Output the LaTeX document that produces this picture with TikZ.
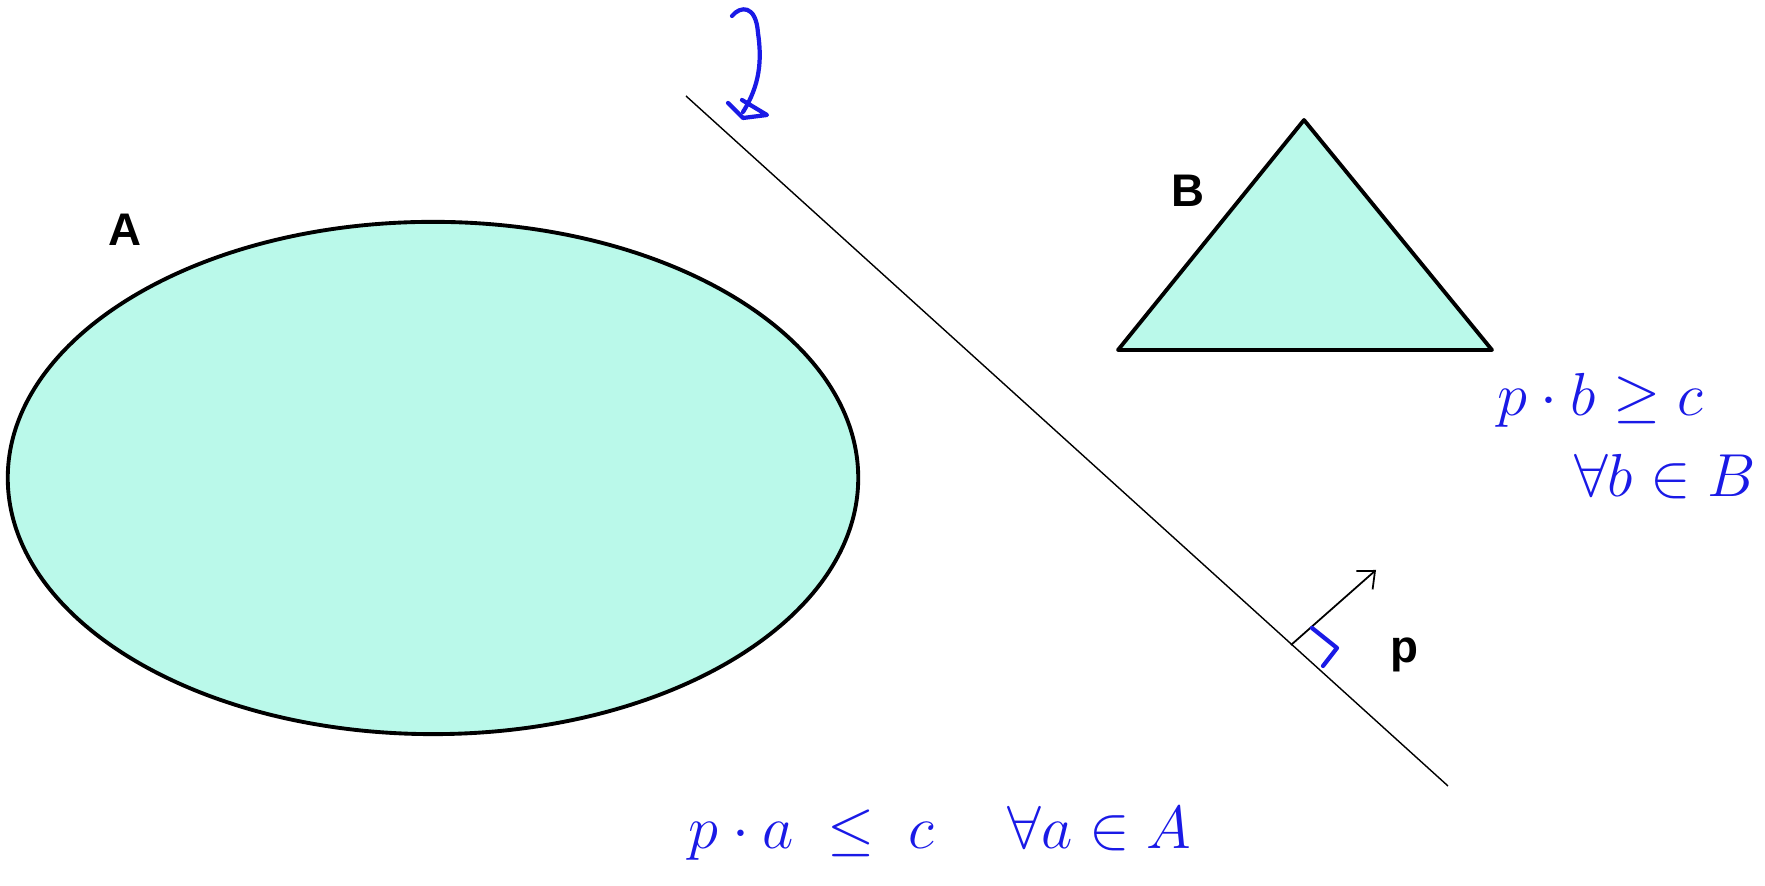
\documentclass[tikz,border=0pt]{standalone}
\usepackage{amsmath,amssymb}
\usepackage{fontspec}
\setsansfont{Liberation Sans}
\usetikzlibrary{arrows.meta}
\definecolor{setfill}{HTML}{BAF9EA}
\definecolor{ink}{HTML}{1A1AE6}

\begin{document}
\begin{tikzpicture}[x=0.01cm,y=-0.01cm,
  lbl/.style={font=\sffamily\bfseries\fontsize{13}{15}\selectfont},
  hand/.style={text=ink,font=\fontsize{16}{19}\selectfont},
  pen/.style={draw=ink,line width=1.2pt,line cap=round,line join=round}]
\useasboundingbox (0,0) rectangle (1765,886);
\draw[line width=1.1pt,fill=setfill](433,478) ellipse[x radius=4.25cm,y radius=2.56cm];
\draw[line width=1.1pt,fill=setfill,line join=round](1304,120)--(1118,350)--(1492,350)--cycle;
\node[lbl] (A) at (125,230) {A};
\node[lbl] (B) at (1188,191) {B};
\coordinate (l1) at (686,96);
\coordinate (l2) at (1448,786);
\draw[line width=0.4pt] (l1) -- (l2);
\coordinate (foot) at (1291,645);
\coordinate (tip) at (1376,570);
\draw[line width=0.5pt,-{Straight Barb[length=4pt,width=7pt]}] (foot) -- (tip);
\node[lbl] (p) at (1404,655) {p};
\draw[pen] (1312,628) -- (1337,648) -- (1323,666);
\draw[pen] (732,16) .. controls (740,6) and (756,4) .. (758,33)
  .. controls (762,60) and (760,85) .. (743,112);
\draw[pen] (728,103) -- (743,118) -- (767,115) -- (742,100);
\node[hand] (eqb) at (1600,400) {$p\cdot b\geq c$};
\node[hand] (allb) at (1665,477) {$\forall b\in B$};
\node[hand] (eqa) at (940,833) {$p\cdot a\;\leq\; c\quad\;\forall a\in A$};
\end{tikzpicture}
\end{document}
